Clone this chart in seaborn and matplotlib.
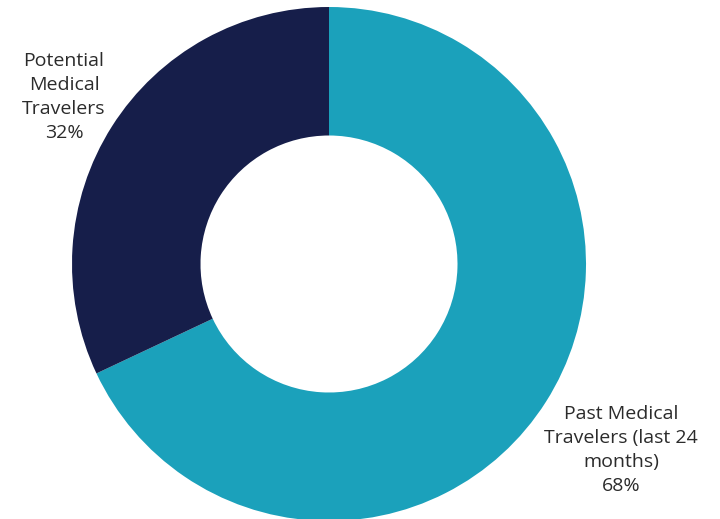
import matplotlib
matplotlib.use("Agg")
import matplotlib.pyplot as plt
import seaborn as sns

sns.set_theme(style="white")
plt.rcParams["font.family"] = ["Open Sans", "DejaVu Sans"]

categories = ["Past Medical Travelers (last 24 months)", "Potential Medical Travelers"]
shares = [68, 32]
colors = ["#1BA1BB", "#161E4A"]
label_lines = ["Past Medical\nTravelers (last 24\nmonths)", "Potential\nMedical\nTravelers"]

W, H = 720, 519
fig = plt.figure(figsize=(W / 100, H / 100), dpi=100)
fig.patch.set_facecolor("white")

cx, cy, r = 329, 264, 257
ax = fig.add_axes([(cx - r) / W, (H - cy - r) / H, 2 * r / W, 2 * r / H])
ax.pie(shares, colors=colors, startangle=90, counterclock=False,
       radius=1, wedgeprops=dict(width=0.5, edgecolor="none"))
ax.set_xlim(-1, 1)
ax.set_ylim(-1, 1)
ax.set_aspect("equal")
ax.axis("off")

label_pos = [(621, 450), (64, 97)]
for text, share, (px, py) in zip(label_lines, shares, label_pos):
    fig.text(px / W, 1 - py / H, f"{text}\n{share}%", ha="center", va="center",
             fontsize=14, color="#2b2b2b", linespacing=1.42)

fig.savefig("out.png", dpi=100, facecolor="white")
